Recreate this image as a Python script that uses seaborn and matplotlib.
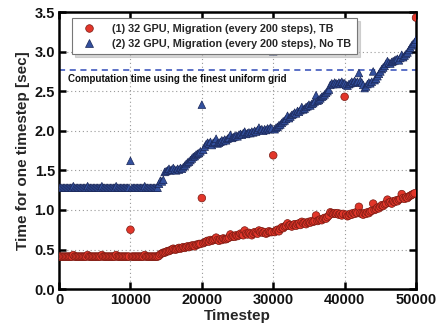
import numpy as np
import pandas as pd
import matplotlib
matplotlib.use("Agg")
import matplotlib.pyplot as plt
import seaborn as sns

steps = list(range(0, 50001, 200))

tb_times = [
    0.41, 0.41, 0.41, 0.41, 0.41, 0.41, 0.41, 0.41, 0.41, 0.41,
    0.43, 0.41, 0.41, 0.41, 0.41, 0.41, 0.41, 0.41, 0.41, 0.41,
    0.43, 0.41, 0.41, 0.41, 0.41, 0.41, 0.41, 0.41, 0.41, 0.41,
    0.43, 0.41, 0.41, 0.41, 0.41, 0.41, 0.41, 0.41, 0.41, 0.41,
    0.43, 0.41, 0.41, 0.41, 0.41, 0.41, 0.41, 0.41, 0.41, 0.41,
    0.75, 0.41, 0.41, 0.41, 0.41, 0.41, 0.41, 0.41, 0.41, 0.41,
    0.43, 0.41, 0.41, 0.41, 0.41, 0.41, 0.41, 0.41, 0.41, 0.41,
    0.42, 0.44, 0.45, 0.46, 0.46, 0.47, 0.48, 0.48, 0.49, 0.50,
    0.51, 0.50, 0.50, 0.51, 0.52, 0.51, 0.52, 0.53, 0.52, 0.53,
    0.54, 0.53, 0.54, 0.55, 0.55, 0.54, 0.56, 0.56, 0.57, 0.57,
    1.15, 0.58, 0.59, 0.60, 0.61, 0.60, 0.62, 0.61, 0.62, 0.63,
    0.65, 0.62, 0.61, 0.63, 0.62, 0.64, 0.63, 0.63, 0.64, 0.65,
    0.69, 0.66, 0.67, 0.66, 0.68, 0.67, 0.68, 0.70, 0.69, 0.68,
    0.74, 0.70, 0.69, 0.71, 0.70, 0.68, 0.70, 0.72, 0.71, 0.70,
    0.74, 0.72, 0.73, 0.71, 0.72, 0.70, 0.71, 0.73, 0.72, 0.72,
    1.69, 0.72, 0.74, 0.75, 0.73, 0.76, 0.78, 0.77, 0.79, 0.80,
    0.83, 0.80, 0.81, 0.79, 0.81, 0.82, 0.80, 0.82, 0.83, 0.81,
    0.85, 0.83, 0.84, 0.82, 0.84, 0.85, 0.84, 0.86, 0.85, 0.86,
    0.93, 0.86, 0.87, 0.88, 0.87, 0.89, 0.90, 0.89, 0.91, 0.93,
    0.97, 0.96, 0.95, 0.96, 0.95, 0.96, 0.94, 0.95, 0.93, 0.95,
    2.43, 0.94, 0.92, 0.93, 0.95, 0.94, 0.96, 0.95, 0.97, 0.96,
    1.04, 0.96, 0.95, 0.94, 0.96, 0.95, 0.97, 0.96, 0.98, 0.99,
    1.08, 1.00, 1.01, 1.03, 1.02, 1.04, 1.06, 1.05, 1.07, 1.08,
    1.13, 1.09, 1.10, 1.08, 1.11, 1.10, 1.12, 1.11, 1.13, 1.14,
    1.20, 1.15, 1.14, 1.16, 1.15, 1.17, 1.18, 1.19, 1.20, 1.21,
    3.43,
]

notb_times = [
    1.28, 1.28, 1.28, 1.28, 1.28, 1.28, 1.28, 1.28, 1.28, 1.28,
    1.30, 1.28, 1.28, 1.28, 1.28, 1.28, 1.28, 1.28, 1.28, 1.28,
    1.30, 1.28, 1.28, 1.28, 1.28, 1.28, 1.28, 1.28, 1.28, 1.28,
    1.30, 1.28, 1.28, 1.28, 1.28, 1.28, 1.28, 1.28, 1.28, 1.28,
    1.30, 1.28, 1.28, 1.28, 1.28, 1.28, 1.28, 1.28, 1.28, 1.28,
    1.62, 1.28, 1.28, 1.28, 1.28, 1.28, 1.28, 1.28, 1.28, 1.28,
    1.30, 1.28, 1.28, 1.28, 1.28, 1.28, 1.28, 1.28, 1.28, 1.28,
    1.33, 1.37, 1.36, 1.38, 1.48, 1.49, 1.50, 1.52, 1.50, 1.51,
    1.53, 1.51, 1.50, 1.52, 1.51, 1.53, 1.52, 1.54, 1.56, 1.58,
    1.60, 1.61, 1.63, 1.65, 1.67, 1.68, 1.70, 1.71, 1.72, 1.74,
    2.33, 1.76, 1.80, 1.83, 1.85, 1.84, 1.86, 1.82, 1.85, 1.86,
    1.90, 1.84, 1.85, 1.86, 1.88, 1.87, 1.89, 1.88, 1.90, 1.91,
    1.95, 1.91, 1.92, 1.93, 1.94, 1.93, 1.95, 1.96, 1.95, 1.97,
    1.99, 1.96, 1.97, 1.98, 1.97, 1.99, 1.98, 2.00, 1.99, 2.01,
    2.04, 2.01, 2.02, 2.00, 2.02, 2.01, 2.03, 2.02, 2.04, 2.03,
    3.00, 2.02, 2.04, 2.05, 2.07, 2.08, 2.10, 2.12, 2.13, 2.15,
    2.19, 2.16, 2.18, 2.20, 2.21, 2.23, 2.22, 2.25, 2.24, 2.26,
    2.30, 2.27, 2.28, 2.30, 2.31, 2.33, 2.32, 2.34, 2.35, 2.37,
    2.45, 2.38, 2.39, 2.41, 2.43, 2.44, 2.46, 2.48, 2.50, 2.52,
    2.58, 2.60, 2.59, 2.61, 2.60, 2.59, 2.61, 2.60, 2.62, 2.60,
    2.60, 2.58, 2.57, 2.59, 2.60, 2.62, 2.61, 2.63, 2.61, 2.62,
    2.73, 2.63, 2.61, 2.58, 2.54, 2.56, 2.59, 2.61, 2.60, 2.62,
    2.75, 2.64, 2.66, 2.69, 2.72, 2.75, 2.78, 2.80, 2.82, 2.85,
    2.88, 2.86, 2.85, 2.87, 2.88, 2.89, 2.90, 2.91, 2.89, 2.92,
    2.96, 2.93, 2.95, 2.97, 2.99, 3.02, 3.05, 3.08, 3.10, 3.12,
    3.15,
]

label_tb = "(1) 32 GPU, Migration (every 200 steps), TB"
label_notb = "(2) 32 GPU, Migration (every 200 steps), No TB"
uniform_time = 2.77
uniform_text = "Computation time using the finest uniform grid"

x_ticks = [0, 10000, 20000, 30000, 40000, 50000]
y_ticks = [0.0, 0.5, 1.0, 1.5, 2.0, 2.5, 3.0, 3.5]

face = {label_tb: "#e2362a", label_notb: "#33509e"}
edge = {label_tb: "#7a1a12", label_notb: "#1b2858"}

sns.set_theme(style="white")
plt.rcParams["font.family"] = ["Liberation Sans", "DejaVu Sans"]
plt.rcParams["font.weight"] = "bold"

df = pd.DataFrame({
    "Timestep": steps * 2,
    "Time": tb_times + notb_times,
    "Series": [label_tb] * len(steps) + [label_notb] * len(steps),
})

fig = plt.figure(figsize=(4.44, 3.27), dpi=100)
ax = fig.add_axes([0.133, 0.116, 0.804, 0.847])

sns.scatterplot(
    data=df, x="Timestep", y="Time", hue="Series", style="Series",
    hue_order=[label_tb, label_notb], style_order=[label_tb, label_notb],
    palette=face,
    markers={label_tb: "o", label_notb: "^"},
    s=30, linewidth=0.5, ax=ax, legend=True, zorder=3,
)
coll = ax.collections[0]
coll.set_edgecolors([edge[s] for s in df["Series"]])

ax.axhline(uniform_time, color="#2f4ab8", linestyle=(0, (4, 3)), linewidth=1.1, zorder=1)
ax.text(1200, uniform_time - 0.05, uniform_text, fontsize=7, fontweight="bold",
        va="top", ha="left", color="#111111")

ax.set_xlim(0, 50000)
ax.set_ylim(0, 3.5)
ax.set_xticks(x_ticks)
ax.set_yticks(y_ticks)
ax.set_xticklabels([str(t) for t in x_ticks], fontsize=10.5, fontweight="bold")
ax.set_yticklabels([f"{t:.1f}" for t in y_ticks], fontsize=10.5, fontweight="bold")
ax.set_xlabel("Timestep", fontsize=11, fontweight="bold", labelpad=1)
ax.set_ylabel("Time for one timestep [sec]", fontsize=11, fontweight="bold", labelpad=3)

ax.grid(True, linestyle=(0, (1, 2.5)), color="#999999", linewidth=0.8)
ax.set_axisbelow(True)
for sp in ax.spines.values():
    sp.set_color("black")
    sp.set_linewidth(1.8)
ax.tick_params(direction="in", length=5, width=1.8, top=True, right=True,
               bottom=True, left=True, pad=3, colors="black")
ax.tick_params(labelcolor="#111111")

leg = ax.legend(loc="upper left", bbox_to_anchor=(0.022, 0.997), fontsize=7.8,
                frameon=True, fancybox=False, shadow={"color": "#bbbbbb", "alpha": 0.6},
                borderpad=0.5, handletextpad=1.2, labelspacing=0.45, markerscale=1.0)
leg.get_frame().set_edgecolor("#777777")
leg.get_frame().set_linewidth(0.8)
for t in leg.get_texts():
    t.set_fontweight("bold")
for h, lab in zip(leg.legend_handles, [label_tb, label_notb]):
    try:
        h.set_markeredgecolor(edge[lab])
    except AttributeError:
        h.set_edgecolor(edge[lab])

fig.savefig("out.png", dpi=100)
